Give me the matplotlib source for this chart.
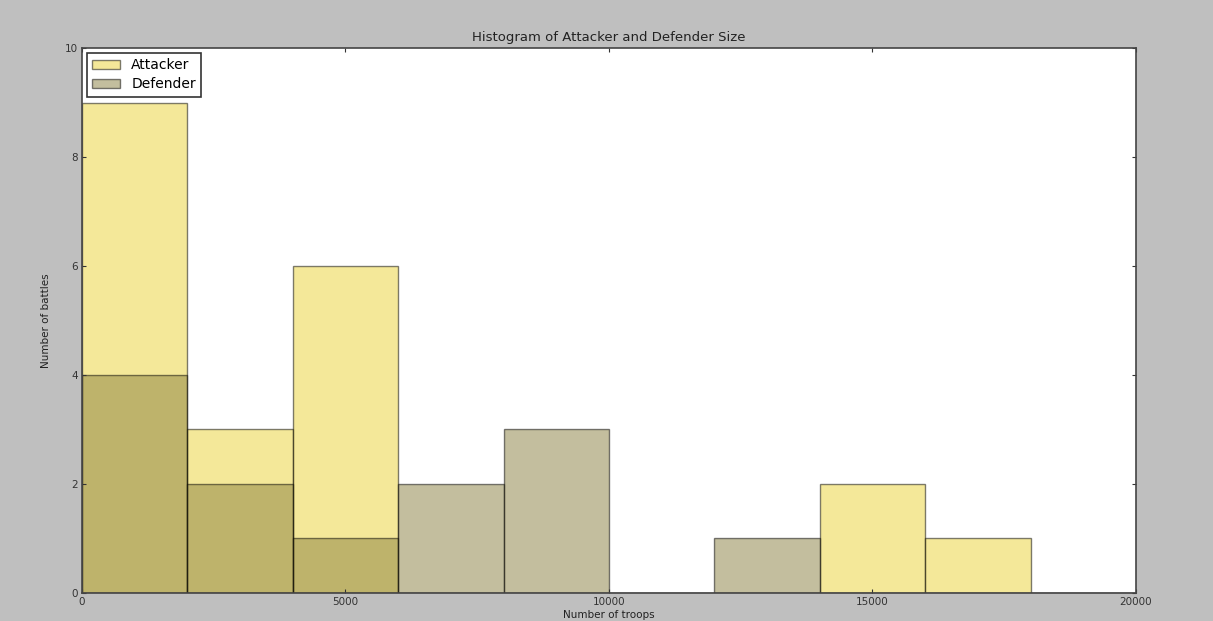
import numpy as np
import matplotlib
matplotlib.use("Agg")
import matplotlib.pyplot as plt

# Bin edges and counts (bins of 2000 troops)
bin_edges = [0, 2000, 4000, 6000, 8000, 10000, 12000, 14000, 16000, 18000, 20000]
attacker_counts = [9, 3, 6, 0, 0, 0, 0, 2, 1, 0]
defender_counts = [4, 2, 1, 2, 3, 0, 1, 0, 0, 0]

attacker_color = (235/255, 211/255, 53/255)
defender_color = (137/255, 127/255, 63/255)

fig = plt.figure(figsize=(12.13, 6.21), dpi=100, facecolor="#bfbfbf")
ax = fig.add_axes([0.0676, 0.0451, 0.8689, 0.8776])

centers = np.array(bin_edges[:-1]) + 1000
ax.hist(centers, bins=bin_edges, weights=attacker_counts, color=attacker_color,
        alpha=0.5, edgecolor="black", linewidth=1, label="Attacker")
ax.hist(centers, bins=bin_edges, weights=defender_counts, color=defender_color,
        alpha=0.5, edgecolor="black", linewidth=1, label="Defender")

ax.set_xlim(0, 20000)
ax.set_ylim(0, 10)
ax.set_xticks([0, 5000, 10000, 15000, 20000])
ax.set_yticks([0, 2, 4, 6, 8, 10])
ax.tick_params(direction="in", length=3, labelsize=7.5, colors="#333333",
               top=True, right=True, pad=3)
for s in ax.spines.values():
    s.set_color("#444444")
    s.set_linewidth(1.2)

ax.set_title("Histogram of Attacker and Defender Size", fontsize=9.5,
             color="#222222", pad=5)
ax.set_xlabel("Number of troops", fontsize=7.5, color="#222222", labelpad=2)
ax.set_ylabel("Number of battles", fontsize=7.5, color="#222222", labelpad=10)

leg = ax.legend(loc="upper left", fontsize=10, fancybox=False, framealpha=1,
                borderaxespad=0.35, handlelength=2.0, handletextpad=0.8,
                labelspacing=0.35)
leg.get_frame().set_edgecolor("#333333")
leg.get_frame().set_linewidth(1.2)

fig.savefig("out.png", dpi=100, facecolor=fig.get_facecolor())
